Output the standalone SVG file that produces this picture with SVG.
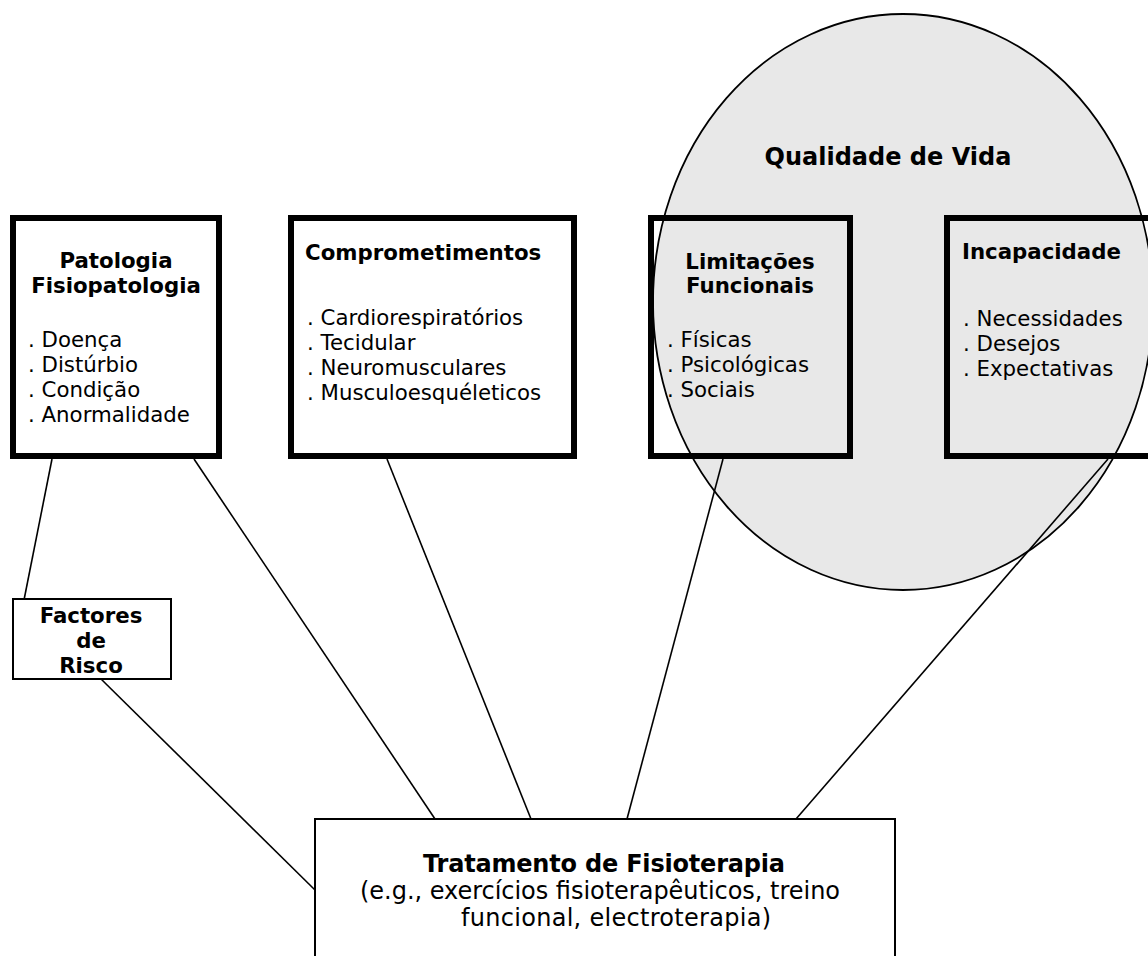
<svg xmlns="http://www.w3.org/2000/svg" width="1148" height="956" viewBox="0 0 1148 956">
<style>
.t{font-family:"DejaVu Sans","Noto Sans",sans-serif;font-size:21.3px;fill:#000}
.b{font-weight:bold}
.m{text-anchor:middle}
.q{font-size:24px}
.tr{font-size:24px}
.box{fill:none;stroke:#000;stroke-width:6}
.thin{fill:#fff;stroke:#000;stroke-width:2}
.c{stroke:#000;stroke-width:1.6;fill:none}
</style>
<rect width="1148" height="956" fill="#fff"/>
<g id="qualidade">
<ellipse cx="903" cy="302" rx="250" ry="288" fill="#e8e8e8" stroke="#000" stroke-width="1.8"/>
<text class="t b m q" x="888" y="165">Qualidade de Vida</text>
</g>
<g id="connectors">
<line class="c" x1="52" y1="459" x2="24" y2="600"/>
<line class="c" x1="194" y1="459" x2="435" y2="819"/>
<line class="c" x1="387" y1="459" x2="531" y2="819"/>
<line class="c" x1="723" y1="459" x2="627" y2="819"/>
<line class="c" x1="1108" y1="459" x2="796" y2="819"/>
<line class="c" x1="100" y1="678" x2="315" y2="890"/>
</g>
<g id="patologia">
<rect class="box" x="13" y="218" width="206" height="238"/>
<text class="t b m" x="116" y="268">Patologia</text>
<text class="t b m" x="116" y="293">Fisiopatologia</text>
<text class="t" x="28" y="347">. Doença</text>
<text class="t" x="28" y="372">. Distúrbio</text>
<text class="t" x="28" y="397">. Condição</text>
<text class="t" x="28" y="422">. Anormalidade</text>
</g>
<g id="comprometimentos">
<rect class="box" x="291" y="218" width="283" height="238"/>
<text class="t b" x="305" y="260">Comprometimentos</text>
<text class="t" x="307" y="325">. Cardiorespiratórios</text>
<text class="t" x="307" y="350">. Tecidular</text>
<text class="t" x="307" y="375">. Neuromusculares</text>
<text class="t" x="307" y="400">. Musculoesquéleticos</text>
</g>
<g id="limitacoes">
<rect class="box" x="651" y="218" width="199" height="238"/>
<text class="t b m" x="750" y="269">Limitações</text>
<text class="t b m" x="750" y="293">Funcionais</text>
<text class="t" x="667" y="347">. Físicas</text>
<text class="t" x="667" y="372">. Psicológicas</text>
<text class="t" x="667" y="397">. Sociais</text>
</g>
<g id="incapacidade">
<rect class="box" x="947" y="218" width="220" height="238"/>
<text class="t b" x="962" y="259">Incapacidade</text>
<text class="t" x="963" y="326">. Necessidades</text>
<text class="t" x="963" y="351">. Desejos</text>
<text class="t" x="963" y="376">. Expectativas</text>
</g>
<g id="factores">
<rect class="thin" x="13" y="599" width="158" height="80"/>
<text class="t b m" x="91" y="623">Factores</text>
<text class="t b m" x="91" y="648">de</text>
<text class="t b m" x="91" y="673">Risco</text>
</g>
<g id="tratamento">
<rect class="thin" x="315" y="819" width="580" height="150"/>
<text class="t b m tr" x="604" y="872" textLength="362">Tratamento de Fisioterapia</text>
<text class="t m tr" x="600" y="899" textLength="480">(e.g., exercícios fisioterapêuticos, treino</text>
<text class="t m tr" x="616" y="926" textLength="310">funcional, electroterapia)</text>
</g>
</svg>
